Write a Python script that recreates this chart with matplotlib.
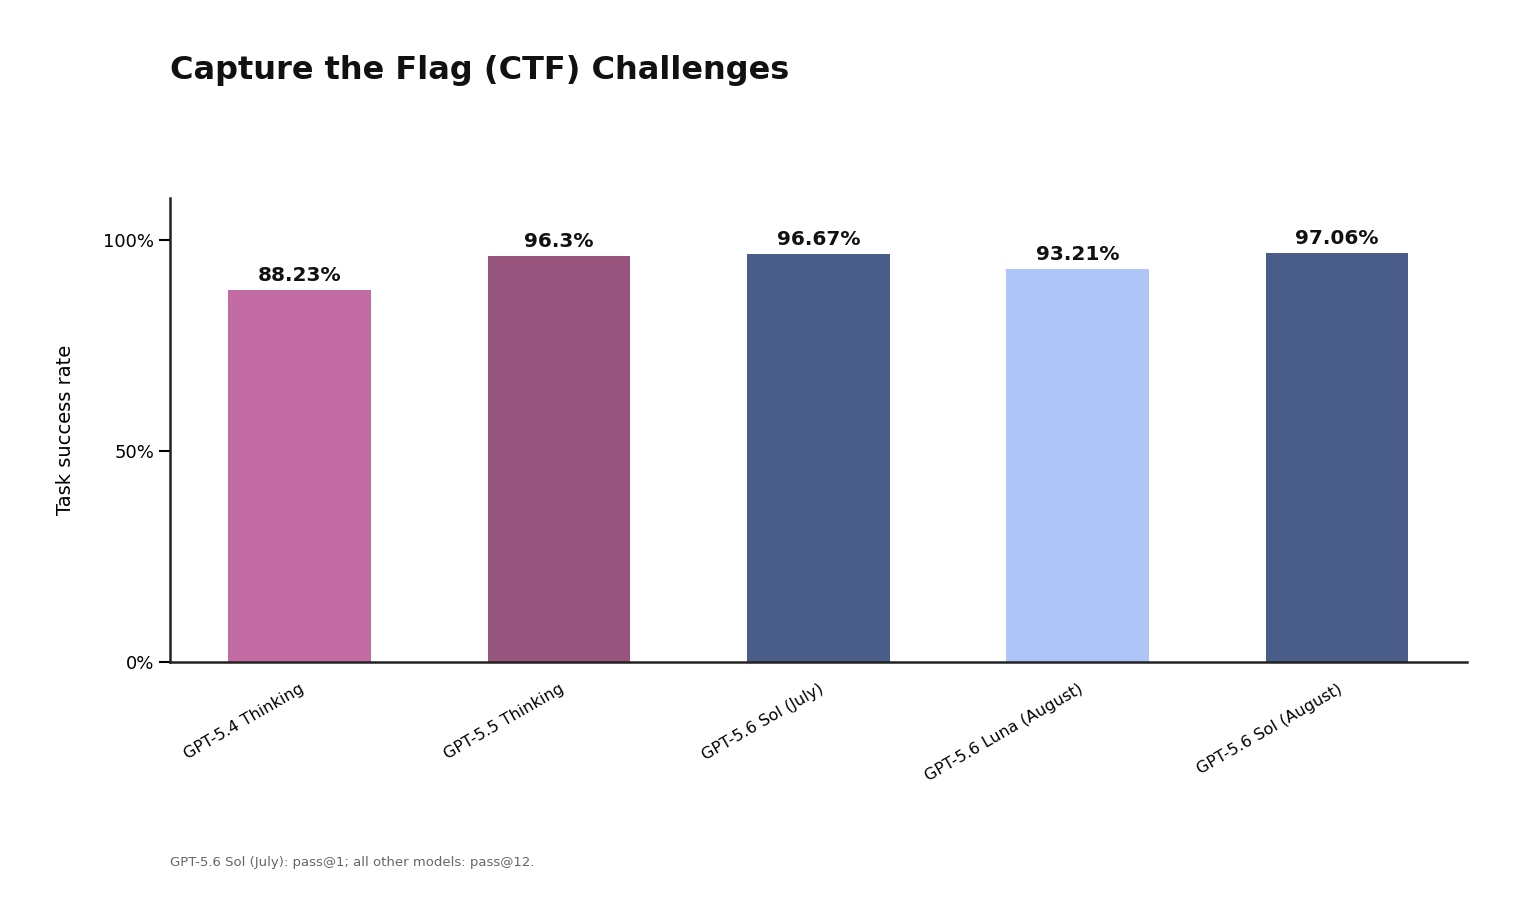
import matplotlib
matplotlib.use("Agg")
import matplotlib.pyplot as plt
from matplotlib.ticker import FuncFormatter

models = ["GPT-5.4 Thinking", "GPT-5.5 Thinking", "GPT-5.6 Sol (July)",
          "GPT-5.6 Luna (August)", "GPT-5.6 Sol (August)"]
values = [88.23, 96.3, 96.67, 93.21, 97.06]
labels = ["88.23%", "96.3%", "96.67%", "93.21%", "97.06%"]
colors = ["#C36BA3", "#97557D", "#4A5C8A", "#B0C5F7", "#4A5C8A"]

fig = plt.figure(figsize=(15.2, 9), dpi=100)
ax = fig.add_axes([0.1118, 0.2644, 0.8532, 0.5156])
x = list(range(len(models)))
ax.bar(x, values, width=0.55, color=colors)
for xi, v, l in zip(x, values, labels):
    ax.text(xi, v + 1.2, l, ha="center", va="bottom", fontsize=14.5,
            fontweight="bold", color="#111111")
ax.set_xlim(-0.5, 4.5)
ax.set_ylim(0, 110)
ax.set_yticks([0, 50, 100])
ax.yaxis.set_major_formatter(FuncFormatter(lambda v, p: f"{v:.0f}%"))
ax.set_xticks(x)
ax.set_xticklabels(models, rotation=30, ha="right", rotation_mode="anchor", fontsize=11.5)
ax.tick_params(axis="y", labelsize=13, length=8, width=1.5)
ax.tick_params(axis="x", length=0, pad=14)
for s in ["top", "right"]:
    ax.spines[s].set_visible(False)
for s in ["left", "bottom"]:
    ax.spines[s].set_linewidth(1.8)
    ax.spines[s].set_color("#222222")
ax.set_ylabel("Task success rate", fontsize=14, labelpad=20)
fig.text(0.1118, 0.922, "Capture the Flag (CTF) Challenges", fontsize=23,
         fontweight="bold", color="#111111", va="center", ha="left")
fig.text(0.1118, 0.042, "GPT-5.6 Sol (July): pass@1; all other models: pass@12.",
         fontsize=9.5, color="#666666", va="center", ha="left")
fig.savefig("out.png", dpi=100)
